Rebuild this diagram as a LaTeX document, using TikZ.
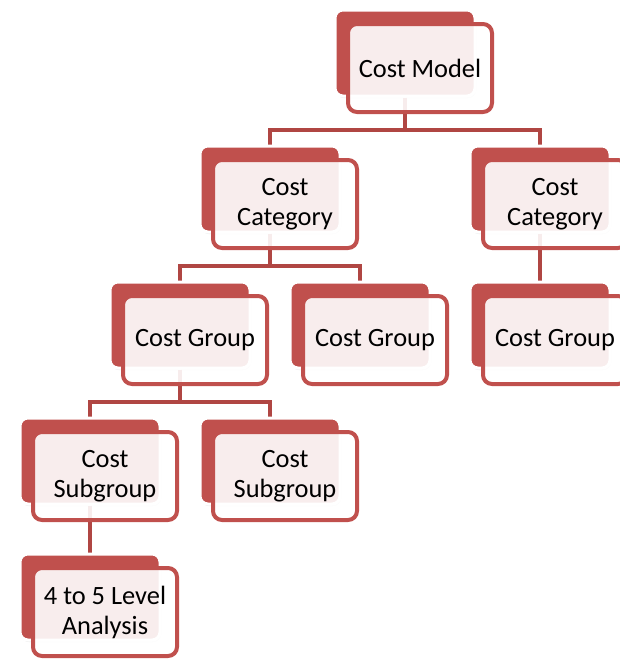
\documentclass[tikz,border=0pt]{standalone}
\usepackage{fontspec}
\setmainfont{Carlito}
\usetikzlibrary{positioning,shadows}
\definecolor{boxred}{HTML}{C0504D}
\definecolor{linkred}{HTML}{B04643}
\pgfdeclarelayer{background}
\pgfsetlayers{background,main}

\begin{document}
\begin{tikzpicture}[
        x=1pt, y=-1pt,
        node distance=47pt,
        back/.style={draw=white, line width=3pt, fill=boxred, rounded corners=8pt, minimum width=140pt, minimum height=86pt,
            drop shadow={opacity=0.18, shadow xshift=1pt, shadow yshift=-2pt}},
        front/.style={draw=boxred, line width=4pt, fill=white, fill opacity=0.9, text opacity=1, rounded corners=9pt,
            minimum width=144pt, minimum height=88pt, align=center, font=\fontsize{26.4}{30}\selectfont},
        link/.style={draw=linkred, line width=4pt}
    ]
    \useasboundingbox (0,0) rectangle (620,659);

    % Nodes
    \node[back] (model) at (405,53) {};
    \node[front] (model-f) at ([shift={(15,15)}]model) {Cost Model};

    \node[back] (cat1) [below=of model, xshift=-135] {};
    \node[front] (cat1-f) at ([shift={(15,15)}]cat1) {Cost\\Category};
    \node[back] (cat2) [below=of model, xshift=135] {};
    \node[front] (cat2-f) at ([shift={(15,15)}]cat2) {Cost\\Category};

    \node[back] (grp1) [below=of cat1, xshift=-90] {};
    \node[front] (grp1-f) at ([shift={(15,15)}]grp1) {Cost Group};
    \node[back] (grp2) [below=of cat1, xshift=90] {};
    \node[front] (grp2-f) at ([shift={(15,15)}]grp2) {Cost Group};
    \node[back] (grp3) [below=of cat2] {};
    \node[front] (grp3-f) at ([shift={(15,15)}]grp3) {Cost Group};

    \node[back] (sub1) [below=of grp1, xshift=-90] {};
    \node[front] (sub1-f) at ([shift={(15,15)}]sub1) {Cost\\Subgroup};
    \node[back] (sub2) [below=of grp1, xshift=90] {};
    \node[front] (sub2-f) at ([shift={(15,15)}]sub2) {Cost\\Subgroup};

    \node[back] (lvl) [below=of sub1] {};
    \node[front] (lvl-f) at ([shift={(15,15)}]lvl) {4 to 5 Level\\Analysis};

    % Edges
    \begin{pgfonlayer}{background}
    \draw[link] (model.south) -- ++(0,32) -| (cat1.north);
    \draw[link] (model.south) -- ++(0,32) -| (cat2.north);
    \draw[link] (cat1.south) -- ++(0,32) -| (grp1.north);
    \draw[link] (cat1.south) -- ++(0,32) -| (grp2.north);
    \draw[link] (cat2.south) -- (grp3.north);
    \draw[link] (grp1.south) -- ++(0,32) -| (sub1.north);
    \draw[link] (grp1.south) -- ++(0,32) -| (sub2.north);
    \draw[link] (sub1.south) -- (lvl.north);
    \end{pgfonlayer}

\end{tikzpicture}
\end{document}
